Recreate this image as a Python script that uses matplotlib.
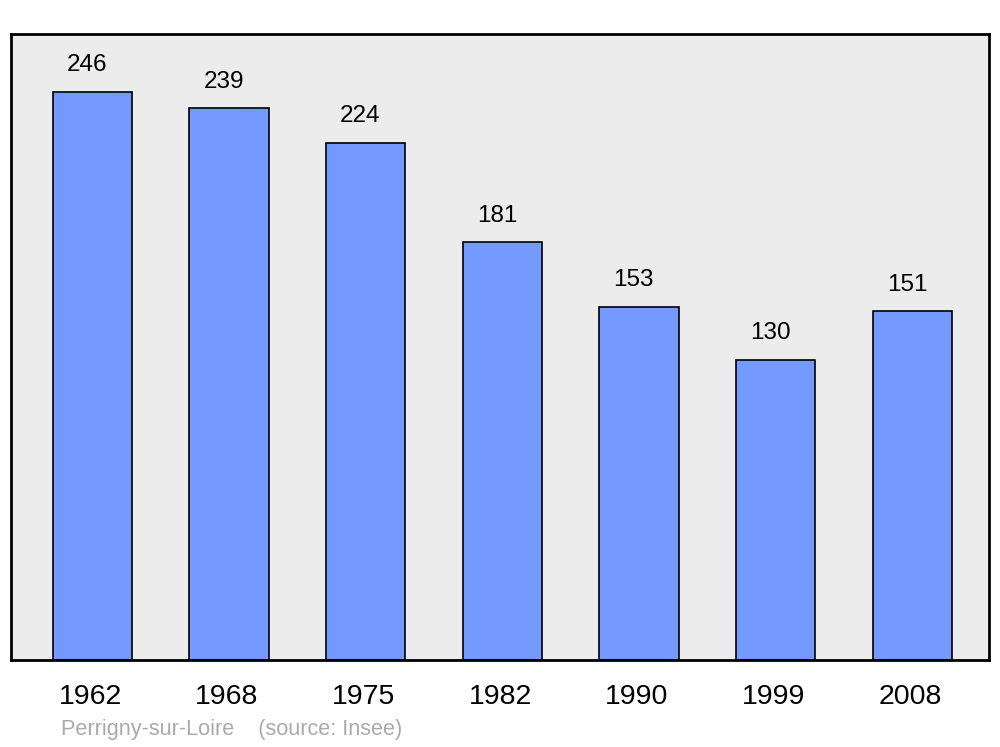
import matplotlib
matplotlib.use("Agg")
import matplotlib.pyplot as plt

years = ["1962", "1968", "1975", "1982", "1990", "1999", "2008"]
population = [246, 239, 224, 181, 153, 130, 151]
caption = "Perrigny-sur-Loire    (source: Insee)"

plt.rcParams['font.family'] = ['Liberation Sans', 'DejaVu Sans']

fig = plt.figure(figsize=(10, 7.47), dpi=100)
ax = fig.add_axes([0.011, 1 - 660/747, 0.978, (660 - 34)/747])
ax.set_facecolor('#ececec')
x = range(len(years))
bars = ax.bar(x, population, width=0.58, color='#7499ff', edgecolor='black', linewidth=1.2, zorder=2)
for xi, v in zip(x, population):
    ax.annotate(str(v), (xi - 0.04, v), xytext=(0, 19), textcoords='offset points',
                ha='center', va='center', fontsize=17.5)
ax.set_xlim(-0.595, 6.56)
ax.set_ylim(0, 271)
ax.set_yticks([])
ax.set_xticks([xi - 0.015 for xi in x])
ax.set_xticklabels(years, fontsize=20.5)
ax.tick_params(axis='x', length=0, pad=17.5)
for s in ax.spines.values():
    s.set_linewidth(2)
fig.text(0.061, 1 - 730/747, caption, color='#aaaaaa', fontsize=15.6, ha='left', va='center')
fig.savefig('out.png', dpi=100)
